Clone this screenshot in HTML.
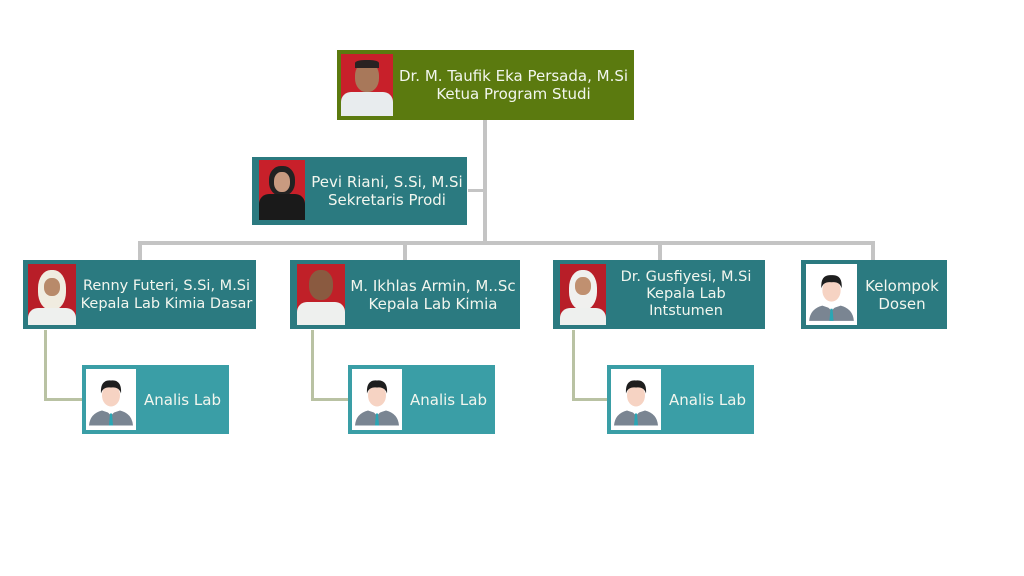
<!DOCTYPE html>
<html><head><meta charset="utf-8"><style>
body{margin:0;width:1024px;height:576px;background:#fff;position:relative;overflow:hidden;font-family:"DejaVu Sans","Liberation Sans",sans-serif;}
.b{position:absolute;color:#f2f6ee;font-size:14.5px;line-height:18px;text-align:center;display:flex;align-items:center;box-sizing:border-box;}
.t{flex:1;white-space:nowrap;}
.l{position:absolute;background:#c4c4c4;}
.g{position:absolute;background:#b9c2a3;}
.ph{position:absolute;overflow:hidden;}
.av{position:absolute;background:#fff;}
</style></head><body>
<div class="l" style="left:483px;top:120px;width:4px;height:124px"></div>
<div class="l" style="left:468px;top:189px;width:16px;height:3px"></div>
<div class="l" style="left:138px;top:241px;width:737px;height:4px"></div>
<div class="l" style="left:138px;top:241px;width:4px;height:20px"></div>
<div class="l" style="left:403px;top:241px;width:4px;height:20px"></div>
<div class="l" style="left:658px;top:241px;width:4px;height:20px"></div>
<div class="l" style="left:871px;top:241px;width:4px;height:20px"></div>
<div class="g" style="left:44px;top:330px;width:3px;height:71px"></div>
<div class="g" style="left:44px;top:398px;width:38px;height:3px"></div>
<div class="g" style="left:311px;top:330px;width:3px;height:71px"></div>
<div class="g" style="left:311px;top:398px;width:38px;height:3px"></div>
<div class="g" style="left:572px;top:330px;width:3px;height:71px"></div>
<div class="g" style="left:572px;top:398px;width:36px;height:3px"></div>

<svg width="0" height="0" style="position:absolute"><defs>
<symbol id="a" viewBox="0 0 50 60"><rect width="50" height="60" fill="#fff"/><path d="M3 56 Q4 44 16 41 L25 44 L34 41 Q46 44 47 56 Z" fill="#7a8592"/><path d="M19 40 L25 46 L31 40 L31 37 L19 37Z" fill="#fff"/><path d="M24 44 L26 44 L27 56 L23 56Z" fill="#2aa6b4"/><ellipse cx="25" cy="26" rx="9" ry="11" fill="#f6d3c3"/><path d="M15 24 Q14 10 25 11 Q36 10 35 24 Q33 17 25 18 Q17 17 15 24Z" fill="#1e1e1e"/></symbol>
</defs></svg>

<div class="b" style="left:337px;top:50px;width:297px;height:70px;background:#5b7a0f;font-size:15px">
<div class="ph" style="left:4px;top:4px;width:52px;height:62px;background:#c8202a"><div style="position:absolute;left:14px;top:8px;width:24px;height:30px;border-radius:45%;background:#a8785a"></div><div style="position:absolute;left:14px;top:6px;width:24px;height:8px;border-radius:40% 40% 0 0;background:#2a2222"></div><div style="position:absolute;left:0;top:38px;width:52px;height:24px;background:#e8ecee;border-radius:10px 10px 0 0"></div></div>
<div class="t" style="margin-left:56px">Dr. M. Taufik Eka Persada, M.Si<br>Ketua Program Studi</div></div>

<div class="b" style="left:252px;top:157px;width:215px;height:68px;background:#2b7a80;font-size:15px">
<div class="ph" style="left:7px;top:3px;width:46px;height:60px;background:#c8202a"><div style="position:absolute;left:10px;top:6px;width:26px;height:30px;border-radius:45%;background:#222"></div><div style="position:absolute;left:15px;top:12px;width:16px;height:20px;border-radius:45%;background:#c89a80"></div><div style="position:absolute;left:0;top:34px;width:46px;height:26px;background:#1a1a1a;border-radius:10px 10px 0 0"></div></div>
<div class="t" style="margin-left:55px">Pevi Riani, S.Si, M.Si<br>Sekretaris Prodi</div></div>

<div class="b" style="left:23px;top:260px;width:233px;height:69px;background:#2b7a80;font-size:14.5px">
<div class="ph" style="left:5px;top:4px;width:48px;height:61px;background:#b81e28"><div style="position:absolute;left:10px;top:6px;width:28px;height:40px;border-radius:45%;background:#f0ece0"></div><div style="position:absolute;left:16px;top:14px;width:16px;height:18px;border-radius:45%;background:#b88a6a"></div><div style="position:absolute;left:0;top:44px;width:48px;height:17px;background:#eef0ee;border-radius:10px 10px 0 0"></div></div>
<div class="t" style="margin-left:54px">Renny Futeri, S.Si, M.Si<br>Kepala Lab Kimia Dasar</div></div>

<div class="b" style="left:290px;top:260px;width:230px;height:69px;background:#2b7a80;font-size:15px">
<div class="ph" style="left:7px;top:4px;width:48px;height:61px;background:#c02028"><div style="position:absolute;left:12px;top:6px;width:24px;height:30px;border-radius:45%;background:#8a5a40"></div><div style="position:absolute;left:0;top:38px;width:48px;height:23px;background:#eef0ee;border-radius:10px 10px 0 0"></div></div>
<div class="t" style="margin-left:56px">M. Ikhlas Armin, M..Sc<br>Kepala Lab Kimia</div></div>

<div class="b" style="left:553px;top:260px;width:212px;height:69px;background:#2b7a80;font-size:14.5px">
<div class="ph" style="left:7px;top:4px;width:46px;height:61px;background:#b81e28"><div style="position:absolute;left:9px;top:6px;width:28px;height:40px;border-radius:45%;background:#f0f0ee"></div><div style="position:absolute;left:15px;top:13px;width:16px;height:18px;border-radius:45%;background:#c09070"></div><div style="position:absolute;left:0;top:44px;width:46px;height:17px;background:#eef0ee;border-radius:10px 10px 0 0"></div></div>
<div class="t" style="margin-left:54px;line-height:17px">Dr. Gusfiyesi, M.Si<br>Kepala Lab<br>Intstumen</div></div>

<div class="b" style="left:801px;top:260px;width:146px;height:69px;background:#2b7a80;font-size:15px">
<svg class="av" style="left:5px;top:4px" width="51" height="61"><use href="#a"/></svg>
<div class="t" style="margin-left:56px">Kelompok<br>Dosen</div></div>

<div class="b" style="left:82px;top:365px;width:147px;height:69px;background:#3a9ea6;font-size:15px">
<svg class="av" style="left:4px;top:4px" width="50" height="61"><use href="#a"/></svg>
<div class="t" style="margin-left:54px">Analis Lab</div></div>
<div class="b" style="left:348px;top:365px;width:147px;height:69px;background:#3a9ea6;font-size:15px">
<svg class="av" style="left:4px;top:4px" width="50" height="61"><use href="#a"/></svg>
<div class="t" style="margin-left:54px">Analis Lab</div></div>
<div class="b" style="left:607px;top:365px;width:147px;height:69px;background:#3a9ea6;font-size:15px">
<svg class="av" style="left:4px;top:4px" width="50" height="61"><use href="#a"/></svg>
<div class="t" style="margin-left:54px">Analis Lab</div></div>
</body></html>
